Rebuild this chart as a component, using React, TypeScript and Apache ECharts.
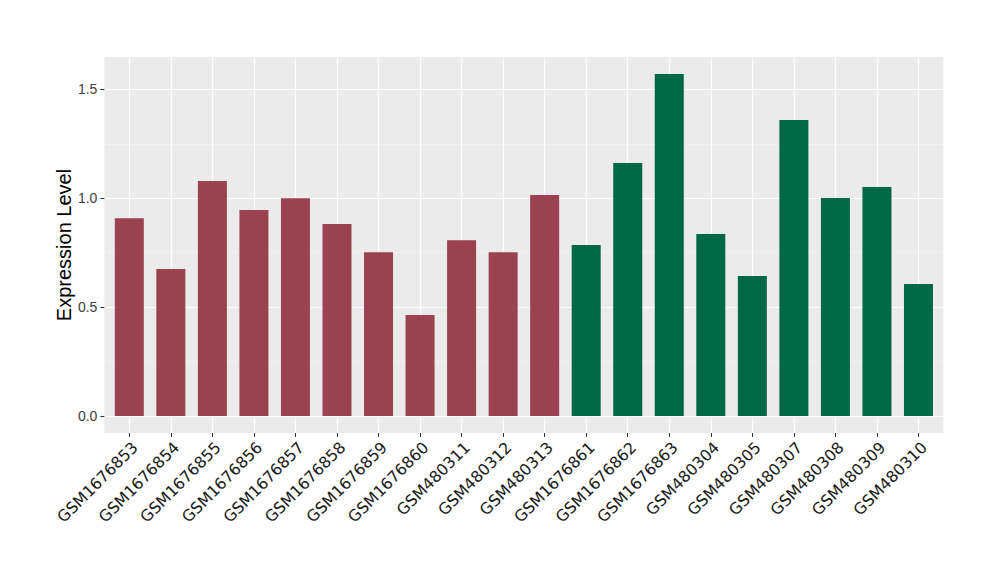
import React, { useEffect, useRef } from "react";
import * as echarts from "echarts";

const categories = [
  "GSM1676853", "GSM1676854", "GSM1676855", "GSM1676856", "GSM1676857",
  "GSM1676858", "GSM1676859", "GSM1676860", "GSM480311", "GSM480312",
  "GSM480313", "GSM1676861", "GSM1676862", "GSM1676863", "GSM480304",
  "GSM480305", "GSM480307", "GSM480308", "GSM480309", "GSM480310",
];
const values = [
  0.908, 0.675, 1.079, 0.946, 1.0, 0.882, 0.752, 0.463, 0.807, 0.752,
  1.015, 0.785, 1.162, 1.57, 0.836, 0.643, 1.359, 1.001, 1.051, 0.606,
];
const groups = [
  "A", "A", "A", "A", "A", "A", "A", "A", "A", "A", "A",
  "B", "B", "B", "B", "B", "B", "B", "B", "B",
];
const majorTicks = [0, 0.5, 1.0, 1.5];
const minorTicks = [0.25, 0.75, 1.25];
const yMin = -0.0785;
const yMax = 1.6485;
const xPositions = categories.map((_, i) => i);
const xMin = -0.6;
const xMax = categories.length - 1 + 0.6;

const groupColors: Record<string, string> = { A: "#9A4250", B: "#006845" };
const FONT = "'Liberation Sans', Arial, Helvetica, sans-serif";

export default function App() {
  const ref = useRef<HTMLDivElement>(null);
  useEffect(() => {
    if (!ref.current) return;
    const chart = echarts.init(ref.current, undefined, { renderer: "svg" });
    chart.setOption({
      animation: false,
      backgroundColor: "#ffffff",
      grid: {
        left: 104.4,
        right: 56.6,
        top: 57,
        bottom: 147,
        show: true,
        backgroundColor: "#EBEBEB",
        borderWidth: 0,
      },
      xAxis: {
        type: "value",
        min: xMin,
        max: xMax,
        position: "bottom",
        axisLine: { show: false, onZero: false },
        axisTick: {
          show: true,
          length: 4,
          customValues: xPositions,
          lineStyle: { color: "#333333", width: 1 },
        },
        splitLine: {
          show: true,
          lineStyle: { color: "#ffffff", width: 1.2 },
        },
        axisLabel: {
          customValues: xPositions,
          rotate: 45,
          margin: 6,
          align: "right",
          verticalAlign: "top",
          fontSize: 15.8,
          color: "#1a1a1a",
          fontFamily: "'DejaVu Sans', sans-serif",
          formatter: (v: number) => categories[Math.round(v)] ?? "",
        },
      },
      yAxis: [
        {
          type: "value",
          min: yMin,
          max: yMax,
          position: "left",
          name: "Expression Level",
          nameLocation: "middle",
          nameGap: 30,
          nameMoveOverlap: false,
          nameRotate: 90,
          nameTextStyle: { fontSize: 20, color: "#000000", fontFamily: FONT },
          axisLine: { show: false, onZero: false },
          axisTick: {
            show: true,
            length: 4,
            customValues: majorTicks,
            lineStyle: { color: "#333333", width: 1 },
          },
          axisLabel: {
            customValues: majorTicks,
            margin: 7,
            fontSize: 14,
            color: "#404040",
            fontFamily: FONT,
            formatter: (v: number) => v.toFixed(1),
          },
          splitLine: {
            show: true,
            lineStyle: { color: "#ffffff", width: 1.2 },
          },
        },
        {
          type: "value",
          min: yMin,
          max: yMax,
          position: "left",
          axisLine: { show: false, onZero: false },
          axisTick: { show: false, customValues: minorTicks },
          axisLabel: { show: false, customValues: minorTicks },
          splitLine: {
            show: true,
            lineStyle: { color: "#F5F5F5", width: 0.6 },
          },
        },
      ],
      series: [
        {
          type: "bar",
          yAxisIndex: 0,
          barWidth: 29,
          data: values.map((v, i) => ({
            value: [xPositions[i], v],
            itemStyle: { color: groupColors[groups[i]] },
          })),
          z: 3,
        },
      ],
    });
    return () => chart.dispose();
  }, []);
  return (
    <div
      ref={ref}
      style={{ position: "fixed", left: 0, top: 0, width: 1000, height: 580 }}
    />
  );
}
